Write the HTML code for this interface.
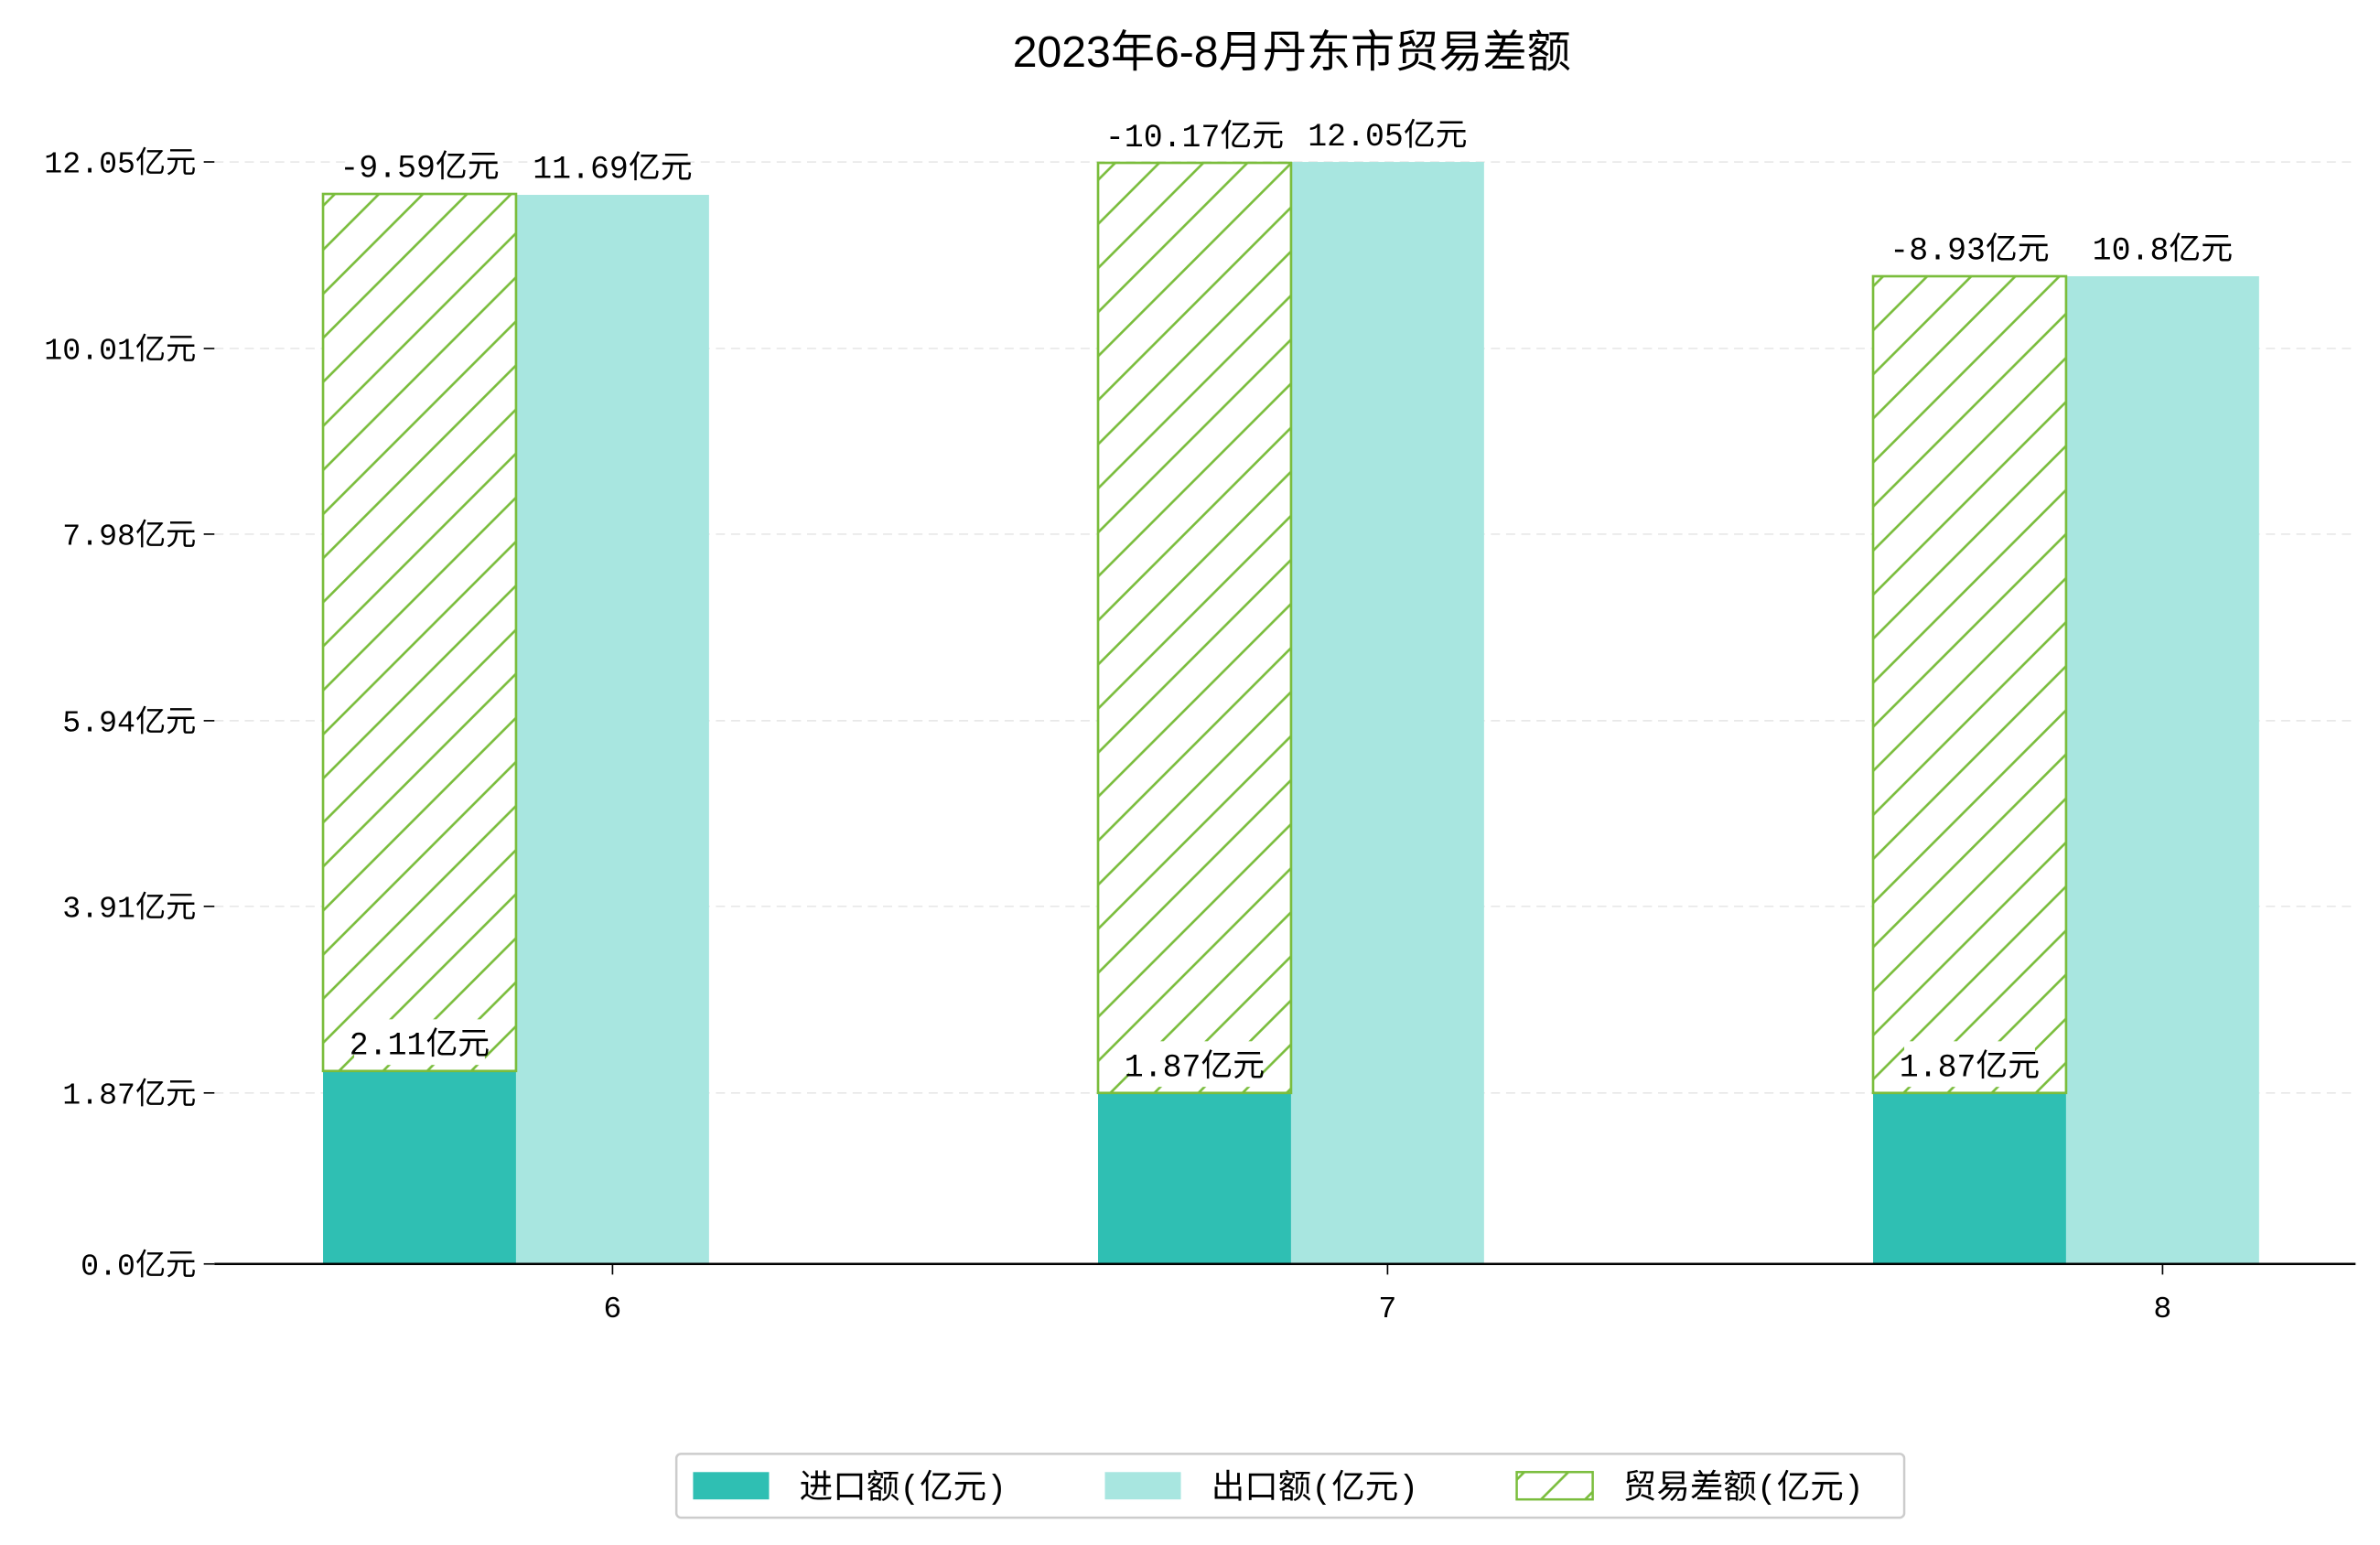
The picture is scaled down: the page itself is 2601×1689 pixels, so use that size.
<!DOCTYPE html>
<html><head><meta charset="utf-8"><style>
html,body{margin:0;padding:0;background:#fff;}
svg{display:block;font-family:"Liberation Mono","Noto Sans CJK SC",monospace;}
</style></head><body>
<svg id="chart" width="2601" height="1689" viewBox="0 0 1566 1017" xmlns="http://www.w3.org/2000/svg">
<defs>
<pattern id="hatch" patternUnits="userSpaceOnUse" width="29" height="29">
<rect width="29" height="29" fill="#fff"/>
<path d="M-2,31 L31,-2 M-31,31 L2,-2 M27,31 L60,-2" stroke="#7abd3c" stroke-width="1.6"/>
</pattern>
</defs>
<text x="850" y="44" text-anchor="middle" font-size="29" font-family="Liberation Sans,Noto Sans CJK SC,sans-serif">2023年6-8月丹东市贸易差额</text>
<g id="grid"></g><g id="bars"></g><g id="labels"></g><g id="axes"></g>
<g>
<rect x="445" y="957" width="808" height="42" fill="#fff" stroke="#ccc" stroke-width="1.5" rx="3"/>
<rect x="456" y="969" width="50" height="18" fill="#2fbfb3"/>
<text x="526" y="986" font-size="22">进口额(亿元)</text>
<rect x="727" y="969" width="50" height="18" fill="#a8e6e0"/>
<text x="797" y="986" font-size="22">出口额(亿元)</text>
<rect x="998" y="969" width="50" height="18" fill="url(#hatch)" stroke="#7abd3c" stroke-width="1.5"/>
<text x="1068" y="986" font-size="22">贸易差额(亿元)</text>
</g>
</svg>
<script>
const months = ['6','7','8'];
const importVals = [2.11, 1.87, 1.87];
const exportVals = [11.69, 12.05, 10.8];
const balanceVals = [-9.59, -10.17, -8.93];
const tickVals = [0.0, 1.87, 3.91, 5.94, 7.98, 10.01, 12.05];
const tickLabels = ['0.0亿元','1.87亿元','3.91亿元','5.94亿元','7.98亿元','10.01亿元','12.05亿元'];

const NS='http://www.w3.org/2000/svg';
const x0=141,x1=1550,base=832,k=60.2;
const y=v=>base-v*k;
const xc=i=>403+i*510;
const bw=127;
function el(tag,attrs,parent,txt){const e=document.createElementNS(NS,tag);for(const a in attrs)e.setAttribute(a,attrs[a]);if(txt!==undefined)e.textContent=txt;parent.appendChild(e);return e;}
const grid=document.getElementById('grid'),bars=document.getElementById('bars'),labels=document.getElementById('labels'),axes=document.getElementById('axes');
tickVals.forEach((v,i)=>{
  if(i>0){const g=el('line',{x1:x0,x2:x1,y1:y(v),y2:y(v),stroke:'#e8e8e8','stroke-dasharray':'6,4'},grid);
  
  }
  const t=el('line',{x1:x0-7,x2:x0,y1:y(v),y2:y(v),stroke:'#000'},axes);
  
  
  const l=el('text',{x:x0-12,y:y(v)+7,'text-anchor':'end','font-size':20},axes,tickLabels[i]);
  
  
});
function label(cx,top,txt){
  const w=txt.length*11+20;
  const r=el('rect',{x:cx-w/2,y:top-34,width:w,height:30,fill:'#fff'},labels);
  
  
  const t=el('text',{x:cx,y:top-11,'text-anchor':'middle','font-size':21},labels,txt);
  
  
}
months.forEach((m,i)=>{
  const c=xc(i);
  const ix=c-bw*1.5, ex=c-bw/2;
  const ib=el('rect',{x:ix,y:y(importVals[i]),width:bw,height:importVals[i]*k,fill:'#2fbfb3'},bars);
  
  
  const eb=el('rect',{x:ex,y:y(exportVals[i]),width:bw,height:exportVals[i]*k,fill:'#a8e6e0'},bars);
  
  
  const h=Math.abs(balanceVals[i]);
  const bb=el('rect',{x:ix,y:y(importVals[i]+h),width:bw,height:h*k,fill:'url(#hatch)',stroke:'#7abd3c','stroke-width':1.6},bars);
  
  
  label(ix+bw/2,y(importVals[i]),importVals[i]+'亿元');
  label(ix+bw/2,y(importVals[i]+h),balanceVals[i]+'亿元');
  label(ex+bw/2,y(exportVals[i]),exportVals[i]+'亿元');
  const t=el('line',{x1:c,x2:c,y1:base,y2:base+7,stroke:'#000'},axes);
  
  
  const l=el('text',{x:c,y:base+35,'text-anchor':'middle','font-size':20},axes,m);
  
  
});
const xa=el('line',{x1:x0,x2:x1,y1:base,y2:base,stroke:'#000','stroke-width':1.5},axes);


</script>
</body></html>
